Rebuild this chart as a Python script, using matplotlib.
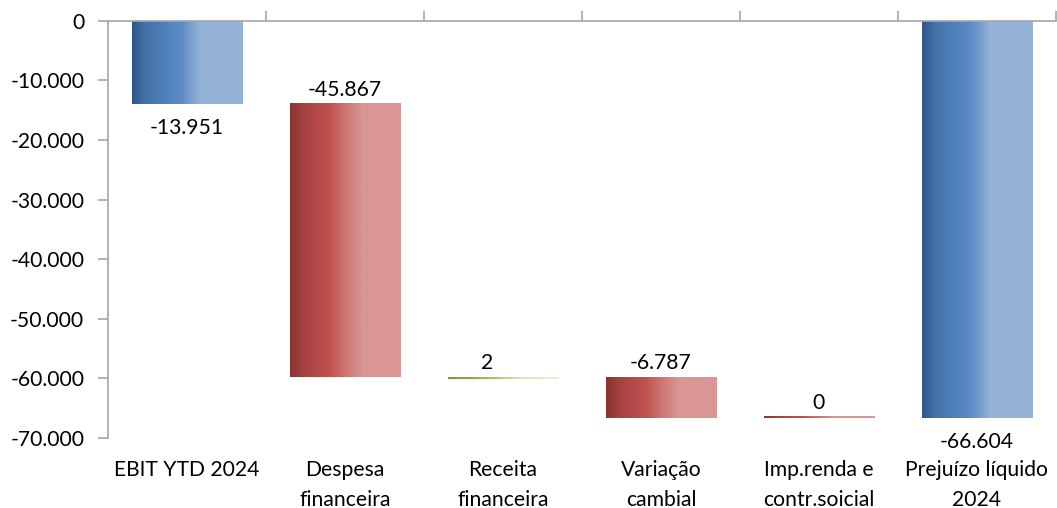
import numpy as np
import matplotlib
matplotlib.use("Agg")
import matplotlib.pyplot as plt
from matplotlib.colors import LinearSegmentedColormap
from matplotlib.transforms import blended_transform_factory

# Data: waterfall from EBIT to net loss
categories = ["EBIT YTD 2024", "Despesa\nfinanceira", "Receita\nfinanceira",
              "Variação\ncambial", "Imp.renda e\ncontr.soicial", "Prejuízo líquido\n2024"]
values = [-13951, -45867, 2, -6787, 0, -66604]
kinds = ["total", "neg", "pos", "neg", "neg", "total"]
label_text = ["-13.951", "-45.867", "2", "-6.787", "0", "-66.604"]
yticks = [0, -10000, -20000, -30000, -40000, -50000, -60000, -70000]

plt.rcParams["font.family"] = ["Lato", "DejaVu Sans"]
plt.rcParams["font.size"] = 15.2

cmaps = {
    "total": LinearSegmentedColormap.from_list("b", [(0, "#2f5687"), (0.12, "#4472a8"), (0.3, "#4f81bd"),
                                                    (0.45, "#5f8cc5"), (0.62, "#95b3d7"), (1, "#95b3d7")]),
    "neg": LinearSegmentedColormap.from_list("r", [(0, "#8a3331"), (0.15, "#a84543"), (0.35, "#c0504d"),
                                                  (0.5, "#cc7572"), (0.65, "#d99694"), (1, "#d99694")]),
    "pos": LinearSegmentedColormap.from_list("g", [(0, "#6f9a36"), (0.35, "#9bbb59"), (0.65, "#d7e4bd"),
                                                  (1, "#ebf1de")]),
}
grad = np.linspace(0, 1, 256).reshape(1, -1)

fig = plt.figure(figsize=(10.57, 5.08), dpi=100)
ax = fig.add_axes([0.102, 0.138, 0.897, 0.821])
ax.set_xlim(-0.5, len(categories) - 0.5)
ax.set_ylim(-70000, 0)

width = 0.7
min_h = 250
running = 0
for i, (v, k) in enumerate(zip(values, kinds)):
    if k == "total":
        start, end = 0, v
        running = v
    else:
        start, end = running, running + v
        running = end
    lo, hi = min(start, end), max(start, end)
    if hi - lo < min_h:
        lo = hi - min_h if k == "pos" else lo
        hi = lo + min_h
    ax.imshow(grad, cmap=cmaps[k], aspect="auto", extent=(i - width / 2, i + width / 2, lo, hi),
              interpolation="bilinear", zorder=2)
    if k == "total":
        ax.annotate(label_text[i], (i, end), xytext=(0, -10), textcoords="offset points",
                    ha="center", va="top")
    else:
        dx = -11 if k == "pos" else 0
        ax.annotate(label_text[i], (i, max(start, end)), xytext=(dx, 3), textcoords="offset points",
                    ha="center", va="bottom")

ax.set_xlim(-0.5, len(categories) - 0.5)
ax.set_ylim(-70000, 0)

# category labels below plot
trans = blended_transform_factory(ax.transData, ax.transAxes)
for i, c in enumerate(categories):
    ax.annotate(c, (i, 0), xycoords=trans, xytext=(0, -16), textcoords="offset points",
                ha="center", va="top", linespacing=1.6)

# axes styling
for s in ["bottom", "right"]:
    ax.spines[s].set_visible(False)
for s in ["left", "top"]:
    ax.spines[s].set_color("#a6a6a6")
    ax.spines[s].set_linewidth(1.2)
ax.set_yticks(yticks)
ax.set_yticklabels([("%d" % v if v == 0 else f"{v:,.0f}".replace(",", ".")) for v in yticks])
ax.tick_params(axis="y", length=7, color="#a6a6a6", width=1.2, pad=10)
ax.xaxis.tick_top()
ax.set_xticks(np.arange(0.5, len(categories), 1.0))
ax.set_xticklabels([])
ax.tick_params(axis="x", length=7, color="#a6a6a6", width=1.2)
for t in ax.xaxis.get_major_ticks():
    t.tick2line.set_clip_on(False)

fig.savefig("out.png", dpi=100)
